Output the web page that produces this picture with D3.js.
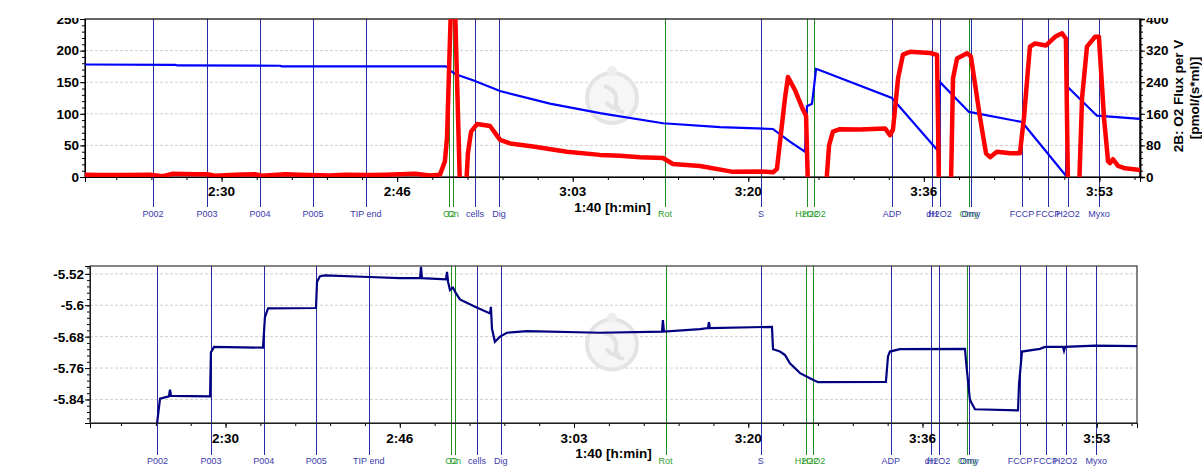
<!DOCTYPE html>
<html>
<head>
<meta charset="utf-8">
<script src="https://cdn.jsdelivr.net/npm/d3@7"></script>
<style>
body{margin:0;background:#fff}
text{font-family:"Liberation Sans",Arial,sans-serif}
</style>
</head>
<body>
<svg id="chart" width="1202" height="466"></svg>
<script>
// time in seconds
var evTime  = [8609,8917,9219,9521,9822,10295,10318,10443,10580,11525,12072,12334,12374,12818,13046,13092,13257,13268,13559,13707,13821,13997];
var evLabel = ["P002","P003","P004","P005","TIP end","O2","Cn","cells","Dig","Rot","S","H2O2","H2O2","ADP","dH","H2O2","Omy","Omy","FCCP","FCCP","H2O2","Myxo"];
var evGreen = [0,0,0,0,0,1,1,0,0,1,0,1,1,0,0,0,1,0,0,0,0,0];

var xMajor = [9000,10000,11000,12000,13000,14000];
var yTopTicks = [0,50,100,150,200,250];
var yFluxTicks = [0,80,160,240,320,400];
var yBotTicks = [-5.84,-5.76,-5.68,-5.6,-5.52];

// 1B: O2 concentration
var o2Conc = [[8222,178],[8735,177.5],[8752,176.5],[9333,176],[9344,175],[10272,175],[10284,174.5],[10301,168],[10312,166.6],[10329,163],[10432,153],[10586,136],[10870,116],[11155,101],[11514,85],[11839,79],[12140,76],[12237,56],[12323,40],[12334,112],[12363,116],[12386,171],[12397,170],[12818,125],[13075,43],[13092,150],[13257,103],[13559,87],[13809,2],[13821,142],[13986,97],[14231,92]];

// 2B: O2 flux per V
var o2Flux = [[8222,6],[8307,5],[8421,5],[8592,6],[8666,2],[8718,8],[8849,7],[8917,7],[8962,3],[9076,6],[9190,7],[9230,3],[9361,7],[9447,6],[9617,4],[9703,6],[9845,5],[9931,6],[10102,8],[10187,4],[10244,6],[10272,40],[10284,100],[10307,440],[10329,440],[10358,-30],[10392,-30],[10403,60],[10421,115],[10455,134],[10529,129],[10586,94],[10643,85],[10774,77],[10967,64],[11155,56],[11269,54],[11383,50],[11469,49],[11514,48],[11571,33],[11725,28],[11913,13],[12067,14],[12141,12],[12163,20],[12209,200],[12226,253],[12266,220],[12312,170],[12329,155],[12340,-30],[12442,-30],[12460,80],[12482,115],[12522,121],[12636,120],[12779,123],[12807,106],[12824,120],[12853,250],[12881,310],[12921,317],[13035,314],[13075,309],[13086,-30],[13154,-30],[13166,250],[13189,300],[13246,313],[13268,305],[13320,150],[13354,60],[13377,50],[13416,64],[13491,60],[13547,60],[13570,150],[13604,330],[13633,338],[13696,333],[13747,355],[13787,364],[13809,350],[13821,-30],[13884,-30],[13901,200],[13929,330],[13975,355],[13997,355],[14026,150],[14049,40],[14060,35],[14077,45],[14106,28],[14146,22],[14231,18]];

// lower panel trace
var lowTrace = [[8607,-5.9],[8624,-5.838],[8675,-5.832],[8681,-5.815],[8687,-5.831],[8911,-5.832],[8916,-5.72],[8934,-5.706],[9215,-5.708],[9226,-5.63],[9244,-5.608],[9519,-5.607],[9525,-5.54],[9542,-5.526],[9571,-5.524],[9823,-5.528],[10001,-5.531],[10116,-5.531],[10122,-5.502],[10127,-5.531],[10265,-5.534],[10271,-5.515],[10277,-5.54],[10288,-5.561],[10305,-5.555],[10322,-5.569],[10345,-5.585],[10432,-5.604],[10518,-5.621],[10523,-5.604],[10529,-5.66],[10546,-5.693],[10575,-5.680],[10615,-5.670],[10730,-5.666],[11149,-5.670],[11505,-5.667],[11510,-5.638],[11516,-5.667],[11723,-5.661],[11769,-5.658],[11774,-5.643],[11780,-5.658],[12136,-5.655],[12142,-5.712],[12182,-5.718],[12211,-5.727],[12239,-5.748],[12297,-5.773],[12354,-5.786],[12400,-5.796],[12790,-5.795],[12802,-5.73],[12813,-5.718],[12871,-5.712],[13244,-5.711],[13249,-5.74],[13272,-5.841],[13301,-5.865],[13548,-5.868],[13554,-5.80],[13571,-5.718],[13674,-5.711],[13703,-5.706],[13806,-5.706],[13812,-5.716],[13818,-5.706],[13990,-5.703],[14231,-5.704]];

var svg = d3.select("#chart");
var tDom = [8222,14231];

function hmin(t){
  var h = Math.floor(t/3600), m = Math.floor((t%3600)/60);
  return h + ":" + (m<10?"0":"") + m;
}

function panel(o){
  var x = d3.scaleLinear().domain(tDom).range([o.left,o.right]);
  var y = d3.scaleLinear().domain(o.yDom).range([o.bottom,o.top]);
  var g = svg.append("g");
  var id = "clip" + o.top;
  g.append("clipPath").attr("id",id).append("rect")
    .attr("x",o.left).attr("y",o.top).attr("width",o.right-o.left).attr("height",o.bottom-o.top);

  // grid
  g.selectAll(".grid").data(o.yTicks.filter(function(v){return y(v)>o.top+1 && y(v)<o.bottom-1;}))
    .enter().append("line")
    .attr("x1",o.left).attr("x2",o.right)
    .attr("y1",d=>y(d)).attr("y2",d=>y(d))
    .attr("stroke","#cfcfcf").attr("stroke-dasharray","3,2");

  // watermark (faint logo)
  var cy = (o.top+o.bottom)/2;
  g.append("circle").attr("cx",612).attr("cy",cy).attr("r",25)
    .attr("fill","#f6f6f6").attr("stroke","#e4e4e4").attr("stroke-width",4);
  g.append("path").attr("d","M604,"+(cy-12)+" q14,4 12,16 q-2,10 8,10 M606,"+(cy+4)+" q6,8 14,6")
    .attr("fill","none").attr("stroke","#e2e2e2").attr("stroke-width",4);
  g.append("circle").attr("cx",612).attr("cy",cy-27).attr("r",5).attr("fill","#eeeeee");

  // events
  g.selectAll(".ev").data(evTime).enter().append("line")
    .attr("x1",d=>Math.round(x(d))+0.5).attr("x2",d=>Math.round(x(d))+0.5)
    .attr("y1",o.top).attr("y2",o.evEnd)
    .attr("stroke",(d,i)=>evGreen[i]?"#1f8f1f":"#2a2aa2").attr("stroke-width",1);
  g.selectAll(".evl").data(evTime).enter().append("text")
    .attr("x",d=>x(d)).attr("y",o.evText).attr("text-anchor","middle")
    .attr("font-size",9).attr("fill",(d,i)=>evGreen[i]?"#2ea02e":"#3a3aac")
    .text((d,i)=>evLabel[i]);

  // x axis
  var xa = g.append("g").attr("transform","translate(0,"+o.bottom+")");
  xa.call(d3.axisBottom(x).tickValues(d3.range(8400,14231,200)).tickSize(3).tickFormat(""));
  xa.append("g").call(d3.axisBottom(x).tickValues(xMajor).tickSize(5).tickFormat(""));
  xa.selectAll(".domain").attr("stroke","#000");
  g.selectAll(".xl").data(xMajor).enter().append("text")
    .attr("x",d=>x(d)).attr("y",o.xText).attr("text-anchor","middle")
    .attr("font-size",13.5).attr("font-weight","bold").text(hmin);
  g.append("text").attr("x",(o.left+o.right)/2).attr("y",o.xTitle).attr("text-anchor","middle")
    .attr("font-size",13.5).attr("font-weight","bold").text("1:40 [h:min]");

  // left axis
  var ya = g.append("g").attr("transform","translate("+o.left+",0)");
  ya.call(d3.axisLeft(y).tickValues(o.yMinor).tickSize(3).tickFormat(""));
  ya.append("g").call(d3.axisLeft(y).tickValues(o.yTicks).tickSize(5).tickFormat(""));
  g.selectAll(".yl").data(o.yTicks).enter().append("text")
    .attr("x",o.left-6).attr("y",d=>y(d)).attr("dy","0.36em").attr("text-anchor","end")
    .attr("font-size",13.5).attr("font-weight","bold").text(o.yFmt);

  // frame
  g.append("rect").attr("x",o.left).attr("y",o.top).attr("width",o.right-o.left).attr("height",o.bottom-o.top)
    .attr("fill","none").attr("stroke",o.frame).attr("stroke-width",1.2);

  return {x:x, y:y, g:g, clip:"url(#"+id+")"};
}

var top1 = panel({left:85,right:1140,top:19,bottom:177,yDom:[0,250],
  yTicks:yTopTicks,yMinor:d3.range(0,251,10),yFmt:d=>d,
  evEnd:207,evText:217,xText:196,xTitle:212,frame:"#000"});

var yFlux = d3.scaleLinear().domain([0,400]).range([177,19]);
var ra = svg.append("g").attr("transform","translate(1140,0)");
ra.call(d3.axisRight(yFlux).tickValues(d3.range(0,401,16)).tickSize(3).tickFormat(""));
ra.append("g").call(d3.axisRight(yFlux).tickValues(yFluxTicks).tickSize(5).tickFormat(""));
ra.selectAll(".domain").attr("stroke-width",1.5);
svg.selectAll(".rl").data(yFluxTicks).enter().append("text")
  .attr("x",1146).attr("y",d=>yFlux(d)).attr("dy","0.36em")
  .attr("font-size",13.5).attr("font-weight","bold").text(d=>d);
svg.append("text").attr("transform","translate(1183,96) rotate(-90)").attr("text-anchor","middle")
  .attr("font-size",13.5).attr("font-weight","bold").text("2B: O2 Flux per V");
svg.append("text").attr("transform","translate(1199,98) rotate(-90)").attr("text-anchor","middle")
  .attr("font-size",13.5).attr("font-weight","bold").text("[pmol/(s*ml)]");

// clipped left title remnant
svg.append("clipPath").attr("id","lclip").append("rect").attr("x",11).attr("y",60).attr("width",10).attr("height",70);
svg.append("text").attr("clip-path","url(#lclip)")
  .attr("transform","translate(14,97) rotate(-90)").attr("text-anchor","middle")
  .attr("font-size",13.5).attr("font-weight","bold").text("[µM]");

var line1 = d3.line().x(d=>top1.x(d[0])).y(d=>top1.y(d[1]));
var line2 = d3.line().x(d=>top1.x(d[0])).y(d=>yFlux(d[1]));
var dl = svg.append("g").attr("clip-path",top1.clip);
dl.append("path").datum(o2Conc).attr("d",line1).attr("fill","none")
  .attr("stroke","#0000ff").attr("stroke-width",2.2);
dl.append("path").datum(o2Flux).attr("d",line2).attr("fill","none")
  .attr("stroke","#ff0000").attr("stroke-width",4.5).attr("stroke-linejoin","round");

var bot = panel({left:90,right:1137,top:266,bottom:423,yDom:[-5.9,-5.5],
  yTicks:yBotTicks,yMinor:d3.range(0,25).map(i=>-5.888+i*0.016),yFmt:d=>String(+d.toFixed(2)),
  evEnd:455,evText:464,xText:443,xTitle:458,frame:"#333"});

var line3 = d3.line().x(d=>bot.x(d[0])).y(d=>bot.y(d[1]));
svg.append("g").attr("clip-path",bot.clip).append("path").datum(lowTrace).attr("d",line3)
  .attr("fill","none").attr("stroke","#000080").attr("stroke-width",2.2);

// page edge cut
svg.append("rect").attr("x",0).attr("y",0).attr("width",1202).attr("height",18).attr("fill","#fff");
</script>
</body>
</html>
